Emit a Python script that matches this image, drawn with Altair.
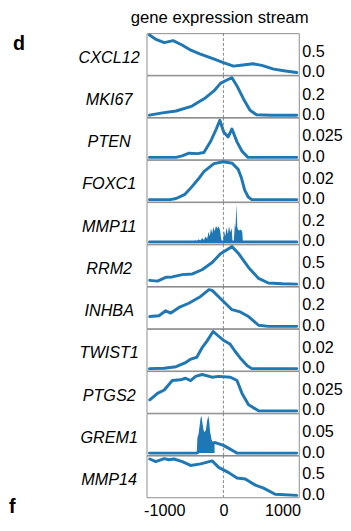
import altair as alt
import pandas as pd

FONT = "Liberation Sans"
BLUE = "#1f77b4"
FRAME = "#8c8c8c"

genes = ["CXCL12", "MKI67", "PTEN", "FOXC1", "MMP11", "RRM2",
         "INHBA", "TWIST1", "PTGS2", "GREM1", "MMP14"]

# upper y tick of each panel and the panel's data maximum
tick_top = [0.5, 0.2, 0.025, 0.02, 0.2, 0.5, 0.2, 0.02, 0.025, 0.05, 0.5]
y_max = [0.95, 0.38, 0.046, 0.037, 0.37, 0.93, 0.37, 0.037, 0.046, 0.093, 0.93]

x_ticks = [-1000, 0, 1000]

cxcl12_x = [-1250, -1150, -1000, -850, -700, -550, -400, -200, 0, 170, 330, 500, 650, 850, 1050, 1240]
cxcl12_y = [0.95, 0.85, 0.76, 0.81, 0.70, 0.57, 0.48, 0.37, 0.26, 0.17, 0.20, 0.23, 0.19, 0.095, 0.048, 0.01]

mki67_x = [-1250, -1030, -800, -530, -300, -160, -50, 60, 145, 230, 340, 450, 560, 800, 1240]
mki67_y = [0.0, 0.023, 0.042, 0.091, 0.175, 0.243, 0.319, 0.353, 0.376, 0.293, 0.163, 0.049, 0.004, 0.0, 0.0]

pten_x = [-1250, -800, -700, -580, -440, -330, -220, -120, -60, 5, 80, 145, 230, 315, 415, 1240]
pten_y = [0, 0, 0.0018, 0.0051, 0.0046, 0.006, 0.0189, 0.0345, 0.0451, 0.0308, 0.0248, 0.0345, 0.0189, 0.0074, 0, 0]

foxc1_x = [-1250, -900, -800, -650, -550, -420, -330, -160, 0, 150, 250, 300, 360, 420, 480, 1240]
foxc1_y = [0, 0, 0.0011, 0.0052, 0.0115, 0.0204, 0.0274, 0.0352, 0.037, 0.0355, 0.0296, 0.0222, 0.0093, 0.0026, 0, 0]

mmp11_x = [-1250, 1240]
mmp11_y = [0, 0]
mmp11_spike_x = [-500, -480, -450, -420, -390, -360, -330, -300, -275, -250, -230, -210, -190, -170, -150,
                 -125, -100, -80, -55, -40, -25, -5, 10, 30, 55, 75, 95, 115, 140, 155, 175, 195, 205,
                 220, 235, 245, 270, 300, 320, 330]
mmp11_spike_y = [0, 0.015, 0.007, 0.026, 0.011, 0.037, 0.018, 0.052, 0.030, 0.100, 0.056, 0.133, 0.081,
                 0.148, 0.104, 0.155, 0.130, 0.152, 0.111, 0.037, 0, 0, 0.111, 0.056, 0.141, 0.074, 0.155,
                 0.093, 0.133, 0, 0, 0.185, 0.130, 0.37, 0.148, 0.122, 0.111, 0.122, 0.093, 0]

rrm2_x = [-1245, -1115, -975, -865, -695, -525, -360, -190, -50, 60, 145, 260, 425, 595, 760, 1000, 1240]
rrm2_y = [0.093, 0.074, 0.167, 0.177, 0.233, 0.251, 0.353, 0.530, 0.744, 0.846, 0.921, 0.744, 0.409, 0.140, 0.028, 0.009, 0.0]

inhba_x = [-1245, -1090, -975, -890, -750, -585, -385, -245, -190, -20, 145, 285, 425, 595, 760, 1240]
inhba_y = [0.096, 0.104, 0.152, 0.130, 0.185, 0.226, 0.292, 0.359, 0.352, 0.255, 0.163, 0.141, 0.096, 0.011, 0.0, 0.0]

twist1_x = [-1250, -1000, -800, -650, -550, -450, -360, -280, -175, -100, 0, 110, 200, 300, 400, 480, 1240]
twist1_y = [0, 0.0004, 0.0019, 0.0056, 0.0093, 0.0111, 0.0204, 0.0266, 0.0363, 0.0326, 0.0278, 0.0241, 0.0167, 0.0093, 0.003, 0, 0]

ptgs2_x = [-1245, -1115, -1000, -865, -725, -640, -555, -470, -360, -190, -80, 120, 230, 315, 425, 595, 1240]
ptgs2_y = [0.0133, 0.0212, 0.0253, 0.0368, 0.0377, 0.0396, 0.0368, 0.0419, 0.0442, 0.0409, 0.0419, 0.0409, 0.0368, 0.0212, 0.0074, 0, 0]

grem1_x = [-1250, -450, -150, -100, 0, 100, 170, 230, 1240]
grem1_y = [0, 0, 0.026, 0.024, 0.019, 0.011, 0.005, 0, 0]
grem1_spike_x = [-450, -440, -420, -400, -385, -370, -355, -335, -315, -295, -275, -255, -240, -225, -210,
                 -200, -180, -160, -150, -149]
grem1_spike_y = [0, 0.037, 0.047, 0.070, 0.086, 0.091, 0.074, 0.056, 0.051, 0.058, 0.079, 0.092, 0.079,
                 0.051, 0.042, 0.033, 0.028, 0.026, 0.026, 0]

mmp14_x = [-1245, -1145, -1000, -920, -835, -695, -555, -385, -190, -80, 90, 230, 370, 540, 680, 875, 1240]
mmp14_y = [0.893, 0.828, 0.902, 0.874, 0.893, 0.828, 0.735, 0.772, 0.846, 0.688, 0.558, 0.428, 0.40, 0.251, 0.177, 0.028, 0.0]

lines = {
    "CXCL12": (cxcl12_x, cxcl12_y), "MKI67": (mki67_x, mki67_y), "PTEN": (pten_x, pten_y),
    "FOXC1": (foxc1_x, foxc1_y), "MMP11": (mmp11_x, mmp11_y), "RRM2": (rrm2_x, rrm2_y),
    "INHBA": (inhba_x, inhba_y), "TWIST1": (twist1_x, twist1_y), "PTGS2": (ptgs2_x, ptgs2_y),
    "GREM1": (grem1_x, grem1_y), "MMP14": (mmp14_x, mmp14_y),
}
spikes = {"MMP11": (mmp11_spike_x, mmp11_spike_y), "GREM1": (grem1_spike_x, grem1_spike_y)}

W, H = 155, 42.4
xscale = alt.Scale(domain=[-1300, 1275], nice=False, zero=False)

panels = []
n = len(genes)
for i, g in enumerate(genes):
    last = i == n - 1
    M = y_max[i]
    yscale = alt.Scale(domain=[-0.05 * M, 1.05 * M], nice=False, zero=False)
    if last:
        xaxis = alt.Axis(values=x_ticks, ticks=False, domain=False, grid=False,
                         labelFontSize=16.5, labelFont=FONT, labelColor="black",
                         labelPadding=6,
                         labelExpr="datum.value < 0 ? '-' + abs(datum.value) : '' + datum.value")
    else:
        xaxis = None
    X = alt.X("x:Q", scale=xscale, axis=xaxis, title=None)
    yaxis = alt.Axis(orient="right", values=[0, tick_top[i]], ticks=False, domain=False, grid=False,
                     labelFontSize=16.5, labelFont=FONT, labelColor="black", labelPadding=3,
                     labelBaseline="alphabetic", labelOffset=4,
                     labelExpr="datum.value == 0 ? '0.0' : '' + datum.value")
    Y = alt.Y("y:Q", scale=yscale, axis=yaxis, title=None)

    xs, ys = lines[g]
    df = pd.DataFrame({"x": xs, "y": ys})
    layers = []
    layers.append(
        alt.Chart(pd.DataFrame({"x": [0]})).mark_rule(
            color="#777777", strokeWidth=0.9, strokeDash=[3, 2]).encode(x=X)
    )
    if g in spikes:
        sx, sy = spikes[g]
        layers.append(
            alt.Chart(pd.DataFrame({"x": sx, "y": sy})).mark_area(color=BLUE, opacity=1).encode(x=X, y=Y)
        )
    layers.append(
        alt.Chart(df).mark_line(color=BLUE, strokeWidth=3, strokeCap="round", strokeJoin="round").encode(x=X, y=Y)
    )
    layers.append(
        alt.Chart(pd.DataFrame({"t": [g]})).mark_text(
            align="center", baseline="alphabetic", fontStyle="italic", fontSize=16.5,
            font=FONT, color="black").encode(x=alt.value(-38), y=alt.value(30), text="t:N")
    )
    if i == 0:
        layers.append(
            alt.Chart(pd.DataFrame({"t": ["gene expression stream"]})).mark_text(
                align="center", baseline="alphabetic", fontSize=17, font=FONT, color="black"
            ).encode(x=alt.value(W / 2 - 3), y=alt.value(-10), text="t:N")
        )
        layers.append(
            alt.Chart(pd.DataFrame({"t": ["d"]})).mark_text(
                align="left", baseline="alphabetic", fontSize=20, fontWeight="bold", font=FONT, color="black"
            ).encode(x=alt.value(-136), y=alt.value(17), text="t:N")
        )
    if last:
        layers.append(
            alt.Chart(pd.DataFrame({"t": ["f"]})).mark_text(
                align="left", baseline="alphabetic", fontSize=20, fontWeight="bold", font=FONT, color="black"
            ).encode(x=alt.value(-140), y=alt.value(58), text="t:N")
        )
    panels.append(alt.layer(*layers).properties(width=W, height=H))

chart = alt.vconcat(*panels, spacing=0, bounds="flush").properties(
    padding={"left": 0, "top": -4, "right": 0, "bottom": -3},
    background="white",
).configure_view(stroke=FRAME, strokeWidth=1)

chart.save("out.html", embed_options={"renderer": "svg", "actions": False})
